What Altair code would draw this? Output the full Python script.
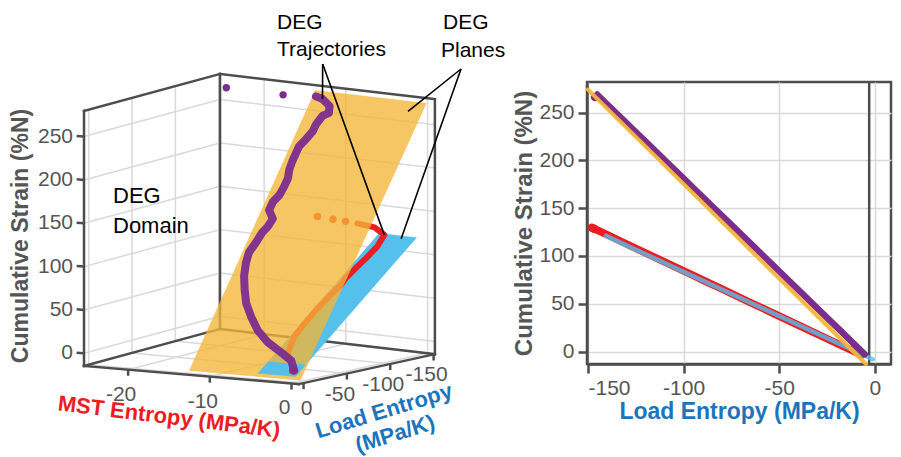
import altair as alt
import pandas as pd

# DEG trajectory (purple): MST entropy, load entropy, cumulative strain
PURPLE_MST = [-0.8, -1.7, -3.4, -5.5, -7.3, -8.8, -10.1, -11.0, -11.8, -12.3,
              -12.5, -12.2, -12.0, -11.7, -11.5, -12.4, -12.4, -12.0, -11.9, -11.9,
              -12.2, -12.3, -12.3, -12.3, -11.9, -11.5, -11.5, -11.2, -10.6, -10.9,
              -12.1, -13.0]
PURPLE_LOAD = [-5.3, -10.3, -14.2, -18.7, -24.3, -30.9, -37.5, -44.2, -51.1, -58.0,
               -63.3, -68.7, -74.1, -76.9, -81.4, -85.6, -90.0, -93.7, -98.2, -102.6,
               -107.0, -111.4, -115.8, -119.3, -123.1, -127.6, -131.2, -135.8, -137.7, -141.2,
               -144.3, -145.2]
PURPLE_STRAIN = [-2.9, 6.8, 14.4, 23.2, 34.0, 46.8, 59.7, 72.7, 86.1, 99.5,
                 109.8, 120.3, 130.8, 136.2, 144.9, 153.0, 161.6, 168.8, 177.6, 186.1,
                 194.7, 203.2, 211.7, 218.6, 225.9, 234.7, 241.7, 250.6, 254.3, 261.1,
                 267.1, 268.9]
PURPLE_TAIL_MST = [-17.1, -24.1]
PURPLE_TAIL_LOAD = [-146.0, -146.5]
PURPLE_TAIL_STRAIN = [266.0, 266.5]

# DEG trajectory (red)
RED_MST = [-1.2, -3.4, -4.3, -4.4, -4.4, -4.2, -4.0, -4.1, -3.9, -3.7, -3.6, -3.9, -5.7, -8.0]
RED_LOAD = [-7.1, -22.1, -38.0, -51.0, -65.9, -79.2, -89.2, -95.8, -107.5, -117.5,
            -127.5, -138.4, -144.1, -145.9]
RED_STRAIN = [-3.5, 10.7, 25.7, 38.0, 52.1, 64.7, 74.1, 80.4, 91.4, 100.9, 110.3, 120.7,
              126.1, 127.7]
RED_TAIL_MST = [-9.5, -11.1, -13.1]
RED_TAIL_LOAD = [-146.5, -147.1, -148.0]
RED_TAIL_STRAIN = [128.3, 128.9, 129.7]

# DEG planes (corners)
YELLOW_PLANE_MST = [-13.6, 0.0, 0.0, -13.6]
YELLOW_PLANE_LOAD = [-4.7, -4.7, -150.0, -150.0]
YELLOW_PLANE_STRAIN = [-13.0, -13.0, 274.0, 274.0]
BLUE_PLANE_MST = [-4.8, -0.2, -0.2, -4.8]
BLUE_PLANE_LOAD = [-1.2, -1.2, -140.6, -140.6]
BLUE_PLANE_STRAIN = [-8.0, -8.0, 121.0, 121.0]
# part of the blue plane that sits in front of the yellow one
BLUE_FRONT_LOAD = [-1.2, -1.2, -12.6, -12.6]
BLUE_FRONT_STRAIN = [-8.0, -8.0, 2.5, 2.5]

MST_TICKS = [-20, -10, 0]
LOAD_TICKS = [0, -50, -100, -150]
STRAIN_TICKS = [0, 50, 100, 150, 200, 250]
MST_RANGE = [-25.4, 0.9]
LOAD_RANGE = [5.4, -151.5]
STRAIN_RANGE = [-14.6, 279.5]
SIDE_BACK_EDGE = [-3.0]

PURPLE = "#7b2d8e"
RED = "#ed1c24"
BLUE = "#55c0ec"
YELLOW = "#f3b638"
TEXT_BLUE = "#1b75bc"
GREY = "#4d4d4d"
LABEL = "#555555"
GRID = "#d9d9d9"
FONT = "Liberation Sans"
LEFT_W = 501


def screen(suffix=""):
    """Perspective-like projection of (m, l, s) onto the left panel."""
    m, l, s = "datum.m" + suffix, "datum.l" + suffix, "datum.s" + suffix
    return {
        "px" + suffix: f"295.2 + 8.17 * {m} - 0.867 * {l}",
        "py" + suffix: (f"365.8 + 0.69 * {m} + 0.191 * {l} - 0.867 * {s}"
                        f" - 0.0017 * ({m} - 0.9) * ({l} - 5.4)"),
    }


LX = alt.X("px:Q", scale=alt.Scale(domain=[8, 8 + LEFT_W], nice=False, zero=False),
           axis=None)
LY = alt.Y("py:Q", scale=alt.Scale(domain=[8, 449], nice=False, zero=False, reverse=True),
           axis=None)


def table(mst, load, strain):
    return pd.DataFrame({"m": mst, "l": load, "s": strain, "k": range(len(mst))})


def segments(pairs, color, width, cap="butt"):
    rows = [dict(m=a[0], l=a[1], s=a[2], m2=b[0], l2=b[1], s2=b[2]) for a, b in pairs]
    return (
        alt.Chart(pd.DataFrame(rows))
        .transform_calculate(**screen(), **screen("2"))
        .mark_rule(color=color, strokeWidth=width, strokeCap=cap)
        .encode(x=LX, y=LY, x2="px2:Q", y2="py2:Q")
    )


def polygon(df, color, opacity):
    return (
        alt.Chart(df)
        .transform_calculate(**screen())
        .mark_line(fill=color, stroke=color, strokeWidth=0.5, fillOpacity=opacity,
                   strokeOpacity=opacity)
        .encode(x=LX, y=LY, order="k:Q")
    )


def path(df, color, width, opacity=1.0):
    return (
        alt.Chart(df)
        .transform_calculate(**screen())
        .mark_line(color=color, strokeWidth=width, strokeCap="round", strokeJoin="round",
                   opacity=opacity)
        .encode(x=LX, y=LY, order="k:Q")
    )


def dots(df, color, size, opacity=1.0):
    return (
        alt.Chart(df)
        .transform_calculate(**screen())
        .mark_circle(color=color, size=size, opacity=opacity)
        .encode(x=LX, y=LY)
    )


def words(rows, **style):
    return (
        alt.Chart(pd.DataFrame(rows))
        .mark_text(font=FONT, **style)
        .encode(x=LX, y=LY, text="t:N")
    )


def tick_labels(rows, **style):
    return (
        alt.Chart(pd.DataFrame(rows))
        .transform_calculate(**screen())
        .mark_text(font=FONT, fontSize=21, color=LABEL, **style)
        .encode(x=LX, y=LY, text="t:N")
    )


m0, m1 = MST_RANGE
l0, l1 = LOAD_RANGE
s0, s1 = STRAIN_RANGE

grid = []
for s in STRAIN_TICKS:
    grid += [((m0, l0, s), (m0, l1, s)), ((m0, l1, s), (m1, l1, s))]
for l in LOAD_TICKS:
    grid += [((m0, l, s0), (m0, l, s1)), ((m0, l, s0), (m1, l, s0))]
for m in MST_TICKS:
    grid += [((m, l1, s0), (m, l1, s1)), ((m, l0, s0), (m, l1, s0))]

box = [
    ((m0, l0, s0), (m0, l0, s1)), ((m0, l1, s0), (m0, l1, s1)), ((m1, l1, s0), (m1, l1, s1)),
    ((m0, l0, s1), (m0, l1, s1)), ((m0, l1, s1), (m1, l1, s1)),
    ((m0, l0, s0), (m1, l0, s0)), ((m1, l0, s0), (m1, l1, s0)),
    ((m0, l0, s0), (m0, l1, s0)), ((m0, l1, s0), (m1, l1, s0)),
]

ticks = ([((m, l0, s0), (m, l0, s0 - 7)) for m in MST_TICKS]
         + [((m1, l, s0), (m1, l, s0 - 7)) for l in LOAD_TICKS]
         + [((m0, l0, s), (m0 - 0.9, l0, s)) for s in STRAIN_TICKS])

purple = table(PURPLE_MST, PURPLE_LOAD, PURPLE_STRAIN)
purple_tail = table(PURPLE_TAIL_MST, PURPLE_TAIL_LOAD, PURPLE_TAIL_STRAIN)
red = table(RED_MST, RED_LOAD, RED_STRAIN)
red_tail = table(RED_TAIL_MST, RED_TAIL_LOAD, RED_TAIL_STRAIN)
yellow_plane = table(YELLOW_PLANE_MST, YELLOW_PLANE_LOAD, YELLOW_PLANE_STRAIN)
blue_plane = table(BLUE_PLANE_MST, BLUE_PLANE_LOAD, BLUE_PLANE_STRAIN)
blue_front = table(BLUE_PLANE_MST, BLUE_FRONT_LOAD, BLUE_FRONT_STRAIN)

# callouts: apex on screen, target on a 3D point
callouts = pd.DataFrame([
    dict(px=321.7, py=60, m=-12.1, l=-144.3, s=267.1),
    dict(px=321.7, py=60, m=-3.9, l=-138.4, s=120.7),
    dict(px=460, py=65, m=-1.7, l=-145.0, s=264.0),
    dict(px=460, py=65, m=-1.8, l=-138.0, s=118.6),
])
callout_lines = (
    alt.Chart(callouts)
    .transform_calculate(tx=screen()["px"], ty=screen()["py"])
    .mark_rule(color="black", strokeWidth=1.6)
    .encode(x=LX, y=LY, x2="tx:Q", y2="ty:Q")
)

left = alt.layer(
    segments(grid, GRID, 1.5),
    segments(box, GREY, 2.5, cap="square"),
    segments(ticks, GREY, 2.5),
    tick_labels([dict(m=m, l=l0, s=s0, t=str(m)) for m in MST_TICKS],
                align="center", baseline="middle", dx=-7, dy=25),
    tick_labels([dict(m=m1, l=l, s=s0, t=str(l)) for l in LOAD_TICKS if l != 0],
                align="center", baseline="middle", dx=-7, dy=21),
    tick_labels([dict(m=m1, l=l, s=s0, t=str(l)) for l in LOAD_TICKS if l == 0],
                align="center", baseline="middle", dx=3, dy=26),
    tick_labels([dict(m=m0, l=l0, s=s, t=str(s)) for s in STRAIN_TICKS],
                align="right", baseline="middle", dx=-11),
    polygon(blue_plane, BLUE, 1.0),
    path(red, RED, 6),
    dots(red_tail, RED, 55),
    polygon(yellow_plane, YELLOW, 0.78),
    polygon(blue_front, BLUE, 1.0),
    dots(red[red["s"] < 3], RED, 55),
    path(purple, PURPLE, 8, opacity=0.95),
    dots(purple_tail, PURPLE, 55),
    callout_lines,
    words([dict(px=276, py=19, t="DEG"), dict(px=276, py=46, t="Trajectories"),
           dict(px=442, py=19, t="DEG"), dict(px=440, py=47, t="Planes")],
          fontSize=21, color="black", align="left", baseline="middle"),
    words([dict(px=112, py=192, t="DEG"), dict(px=112, py=222, t="Domain")],
          fontSize=22, color="black", align="left", baseline="middle"),
    words([dict(px=20, py=232, t="Cumulative Strain (%N)")], fontSize=23,
          fontWeight="bold", color=LABEL, angle=270, align="center", baseline="middle"),
    words([dict(px=168, py=413, t="MST Entropy (MPa/K)")], fontSize=22,
          fontWeight="bold", color=RED, angle=7, align="center", baseline="middle"),
    words([dict(px=383, py=407, t="Load Entropy"), dict(px=394, py=430, t="(MPa/K)")],
          fontSize=22, fontWeight="bold", color=TEXT_BLUE, angle=343, align="center",
          baseline="middle"),
).properties(width=LEFT_W, height=441)

# side view: load entropy vs cumulative strain
axis_style = dict(domainColor=GREY, domainWidth=2.5, tickColor=GREY, tickWidth=2.5,
                  tickSize=9, labelFont=FONT, labelFontSize=21, labelColor=LABEL,
                  labelPadding=4, titleFont=FONT, titleFontWeight="bold",
                  gridColor=GRID, gridWidth=1.5, labelExpr="'' + datum.value")
RX = alt.X("l:Q", scale=alt.Scale(domain=[-150.5, 8.4], nice=False, zero=False),
           axis=alt.Axis(values=[-150, -100, -50, 0], title="Load Entropy (MPa/K)",
                         titleColor=TEXT_BLUE, titleFontSize=23, titlePadding=2,
                         **axis_style))
RY = alt.Y("s:Q", scale=alt.Scale(domain=[-13, 282], nice=False, zero=False),
           axis=alt.Axis(values=STRAIN_TICKS, title="Cumulative Strain (%N)",
                         titleColor=LABEL, titleFontSize=24, titlePadding=2,
                         **axis_style))


def side_line(df, color, width, opacity=1.0):
    return (
        alt.Chart(df)
        .mark_line(color=color, strokeWidth=width, strokeCap="round", opacity=opacity)
        .encode(x=RX, y=RY, order="k:Q")
    )


def side_dots(df, color, size):
    return alt.Chart(df).mark_circle(color=color, size=size, opacity=1).encode(x=RX, y=RY)


right = alt.layer(
    alt.Chart(pd.DataFrame({"l": SIDE_BACK_EDGE}))
    .mark_rule(color=GREY, strokeWidth=2.5)
    .encode(x=RX),
    side_line(red, RED, 7.5),
    side_dots(red_tail, RED, 70),
    side_line(blue_plane, BLUE, 4.5, opacity=0.8),
    side_line(purple, PURPLE, 6.5),
    side_dots(purple_tail, PURPLE, 60),
    side_line(yellow_plane, YELLOW, 4, opacity=0.95),
).properties(
    width=304,
    height=282,
    view=alt.ViewBackground(stroke=GREY, strokeWidth=2.5),
)

# empty block that pushes the side view down to its place
spacer = (
    alt.Chart(pd.DataFrame({"v": [0]}))
    .mark_point(opacity=0)
    .encode(x=alt.value(0), y=alt.value(0))
    .properties(width=304, height=66)
)

chart = (
    alt.hconcat(left, alt.vconcat(spacer, right, spacing=0), spacing=0)
    .properties(padding=0)
    .configure_view(stroke="transparent")
)

chart.save("out.html", embed_options={"renderer": "svg", "actions": False})
